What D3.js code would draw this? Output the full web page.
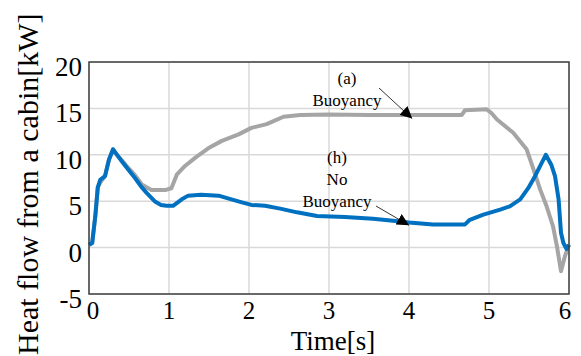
<!DOCTYPE html>
<html>
<head>
<meta charset="utf-8">
<script src="https://cdn.jsdelivr.net/npm/d3@7"></script>
<style>
  body { margin: 0; background: #fff; }
  text { font-family: "Liberation Serif", "DejaVu Serif", serif; fill: #000; }
</style>
</head>
<body>
<script>
const width = 581;
const height = 356;
const margin = { l: 89, r: 12, t: 62, b: 62 };

// time [s] and heat flow [kW]
const buoyancyT = [0, 0.04, 0.08, 0.11, 0.14, 0.2, 0.25, 0.3, 0.35, 0.41, 0.5, 0.575, 0.66, 0.78, 0.95, 1.03, 1.1, 1.2, 1.33, 1.49, 1.66, 1.87, 2.03, 2.22, 2.3, 2.43, 2.64, 3.0, 3.5, 4.0, 4.66, 4.7, 4.97, 5.03, 5.1, 5.3, 5.47, 5.55, 5.64, 5.72, 5.8, 5.85, 5.9, 5.95, 6.0];
const buoyancyV = [0.3, 0.5, 3.5, 6.5, 7.0, 7.7, 9.5, 10.5, 10.0, 9.4, 8.5, 7.8, 6.8, 6.2, 6.2, 6.4, 7.9, 8.8, 9.7, 10.7, 11.5, 12.2, 12.9, 13.3, 13.6, 14.1, 14.3, 14.35, 14.3, 14.3, 14.3, 14.8, 14.9, 14.5, 13.8, 12.4, 10.6, 8.6, 6.25, 4.45, 2.3, 0.1, -2.55, -0.9, 0.3];

const noBuoyancyT = [0, 0.04, 0.08, 0.11, 0.14, 0.2, 0.25, 0.3, 0.35, 0.41, 0.5, 0.575, 0.65, 0.72, 0.82, 0.9, 0.97, 1.05, 1.16, 1.24, 1.4, 1.62, 1.78, 1.9, 2.03, 2.2, 2.39, 2.6, 2.85, 3.2, 3.55, 3.8, 4.0, 4.3, 4.7, 4.76, 4.93, 5.14, 5.26, 5.39, 5.49, 5.575, 5.64, 5.71, 5.78, 5.825, 5.87, 5.9, 5.93, 5.97, 6.0];
const noBuoyancyV = [0.3, 0.5, 3.5, 6.5, 7.3, 7.7, 9.5, 10.6, 10.0, 9.3, 8.3, 7.5, 6.6, 5.9, 5.0, 4.6, 4.5, 4.5, 5.2, 5.6, 5.7, 5.6, 5.2, 4.9, 4.6, 4.5, 4.2, 3.8, 3.4, 3.3, 3.1, 2.9, 2.7, 2.5, 2.5, 3.0, 3.55, 4.1, 4.45, 5.2, 6.4, 7.7, 8.8, 10.0, 8.9, 7.7, 5.2, 1.6, 0.5, -0.15, 0.3];

const xTicks = [0, 1, 2, 3, 4, 5, 6];
const yTicks = [-5, 0, 5, 10, 15, 20];

const colors = { buoyancy: "#a5a5a5", noBuoyancy: "#0070c0", grid: "#d9d9d9", frame: "#404040" };

const x = d3.scaleLinear().domain([0, 6]).range([margin.l, width - margin.r]);
const y = d3.scaleLinear().domain([-5, 20]).range([height - margin.b, margin.t]);

const svg = d3.select("body").append("svg")
  .attr("width", width)
  .attr("height", height);

// grid
svg.append("g").selectAll("line.gx").data(xTicks).enter().append("line")
  .attr("x1", d => x(d)).attr("x2", d => x(d))
  .attr("y1", y(-5)).attr("y2", y(20))
  .style("stroke", colors.grid).style("stroke-width", 1.5);
svg.append("g").selectAll("line.gy").data(yTicks).enter().append("line")
  .attr("x1", x(0)).attr("x2", x(6))
  .attr("y1", d => y(d)).attr("y2", d => y(d))
  .style("stroke", colors.grid).style("stroke-width", 1.5);

// series
const line = d3.line().x(d => x(d[0])).y(d => y(d[1]));
const series = [
  { t: buoyancyT, v: buoyancyV, c: colors.buoyancy },
  { t: noBuoyancyT, v: noBuoyancyV, c: colors.noBuoyancy },
];
series.forEach(s => {
  svg.append("path")
    .datum(s.t.map((t, i) => [t, s.v[i]]))
    .attr("d", line)
    .style("fill", "none")
    .style("stroke", s.c)
    .style("stroke-width", 4)
    .style("stroke-linejoin", "round");
});

// frame
svg.append("rect")
  .attr("x", x(0)).attr("y", y(20))
  .attr("width", x(6) - x(0)).attr("height", y(-5) - y(20))
  .style("fill", "none").style("stroke", colors.frame).style("stroke-width", 1.5);

// tick labels
svg.append("g").selectAll("text").data(yTicks).enter().append("text")
  .attr("x", x(0) - 7).attr("y", d => y(d) + 14)
  .attr("text-anchor", "end").style("font-size", "27px")
  .text(d => d);
svg.append("g").selectAll("text").data(xTicks).enter().append("text")
  .attr("x", d => x(d) + (d === 0 ? 4 : d === 6 ? -4 : 0)).attr("y", y(-5) + 25)
  .attr("text-anchor", "middle").style("font-size", "25px")
  .text(d => d);

// axis titles
svg.append("text")
  .attr("x", 333).attr("y", 350)
  .attr("text-anchor", "middle").style("font-size", "27px")
  .text("Time[s]");
svg.append("text")
  .attr("transform", "translate(38,355) rotate(-90)")
  .attr("text-anchor", "start").style("font-size", "30px")
  .text("Heat flow from a cabin[kW]");

// annotations
svg.append("defs").append("marker")
  .attr("id", "tri").attr("viewBox", "0 0 10 10")
  .attr("refX", 10).attr("refY", 5)
  .attr("markerWidth", 12).attr("markerHeight", 12)
  .attr("markerUnits", "userSpaceOnUse")
  .attr("orient", "auto")
  .append("path").attr("d", "M0,0L10,5L0,10Z").style("fill", "#000");

const notes = [
  { lines: ["(a)", "Buoyancy"], cx: 347, y0: 84, from: [379, 88], to: [x(4.04), y(13.9)] },
  { lines: ["(h)", "No", "Buoyancy"], cx: 337, y0: 163, from: [376, 206], to: [x(4.0), y(2.4)] },
];
notes.forEach(n => {
  n.lines.forEach((s, i) => {
    svg.append("text")
      .attr("x", n.cx).attr("y", n.y0 + i * 22)
      .attr("text-anchor", "middle").style("font-size", "17px")
      .text(s);
  });
  svg.append("line")
    .attr("x1", n.from[0]).attr("y1", n.from[1])
    .attr("x2", n.to[0]).attr("y2", n.to[1])
    .style("stroke", "#000").style("stroke-width", 0.8)
    .attr("marker-end", "url(#tri)");
});
</script>
</body>
</html>
